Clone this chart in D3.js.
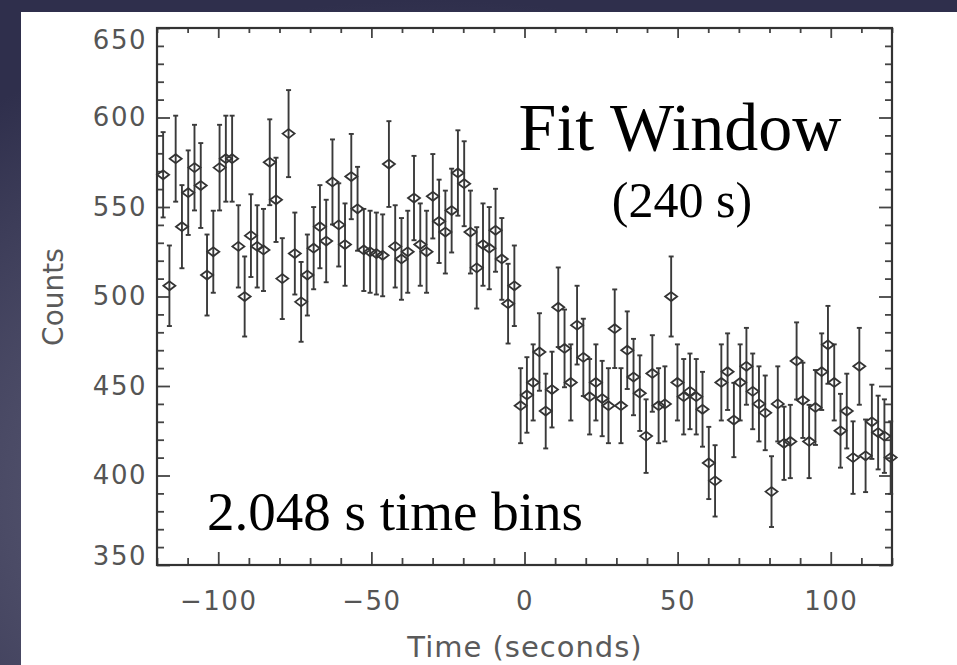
<!DOCTYPE html>
<html>
  <head>
    <meta charset="utf-8">
    <script src="https://d3js.org/d3.v7.min.js"></script>
    <style>
      body { margin: 0; }
      svg { display: block; }
    </style>
  </head>
  <body>
    <div id="chart"></div>
    <script>
      // 2.048 s bins, centres from -118 s
      const binStart = -118;
      const binWidth = 2.048;

      const counts = [
        568, 506, 577, 539, 558, 572, 562, 512, 525, 572,
        577, 577, 528, 500, 534, 528, 526, 575, 554, 510,
        591, 524, 497, 512, 527, 539, 531, 564, 540, 529,
        567, 549, 526, 525, 524, 523, 574, 528, 521, 525,
        555, 529, 525, 556, 542, 536, 548, 569, 563, 536,
        516, 529, 527, 537, 521, 496, 506, 439, 445, 452,
        469, 436, 448, 494, 471, 452, 484, 466, 444, 452,
        443, 439, 482, 439, 470, 455, 446, 422, 457, 439,
        440, 500, 452, 444, 447, 444, 437, 407, 397, 452,
        458, 431, 452, 461, 447, 440, 435, 391, 440, 418,
        419, 464, 442, 419, 438, 458, 473, 452, 425, 436,
        410, 461, 411, 430, 424, 422, 410
      ];

      const xMajor = [-100, -50, 0, 50, 100];
      const yMajor = [350, 400, 450, 500, 550, 600, 650];

      const data = counts.map((c, i) => ({
        t: binStart + i * binWidth,
        c: c,
        err: Math.sqrt(c) // poisson error
      }));

      const width = 957;
      const height = 665;
      const pLeft = 157, pRight = 892, pTop = 28, pBottom = 565;

      const svg = d3
        .select("#chart")
        .append("svg")
        .attr("width", width)
        .attr("height", height);

      // slide background
      const defs = svg.append("defs");
      const grad = defs
        .append("radialGradient")
        .attr("id", "bg")
        .attr("cx", "45%")
        .attr("cy", "75%")
        .attr("r", "75%");
      grad.append("stop").attr("offset", "0%").attr("stop-color", "#74748c");
      grad.append("stop").attr("offset", "100%").attr("stop-color", "#2f2f4c");
      svg.append("rect").attr("width", width).attr("height", height).attr("fill", "url(#bg)");

      svg
        .append("rect")
        .attr("x", 21)
        .attr("y", 12)
        .attr("width", width - 21)
        .attr("height", height - 12)
        .attr("fill", "#ffffff");

      const x = d3.scaleLinear().domain([-120, 120]).range([pLeft, pRight]);
      const y = d3.scaleLinear().domain([350, 650]).range([pBottom, pTop]);

      const xMinor = d3.range(-120, 121, 10).filter((v) => !xMajor.includes(v));
      const yMinor = d3.range(350, 651, 10).filter((v) => !yMajor.includes(v));

      function styleAxis(g) {
        g.select(".domain").remove();
        g.selectAll(".tick line").attr("stroke", "#444").attr("stroke-width", 1.8);
        g.selectAll(".tick text")
          .attr("fill", "#555")
          .style("font-family", "DejaVu Sans, sans-serif")
          .style("font-size", "26px")
          .style("letter-spacing", "1.5px");
      }

      // bottom
      svg.append("g")
        .attr("transform", `translate(0,${pBottom})`)
        .call(d3.axisBottom(x).tickValues(xMajor).tickSize(-13).tickPadding(27))
        .call(styleAxis);
      svg.append("g")
        .attr("transform", `translate(0,${pBottom})`)
        .call(d3.axisBottom(x).tickValues(xMinor).tickSize(-7).tickFormat(""))
        .call(styleAxis);
      // top
      svg.append("g")
        .attr("transform", `translate(0,${pTop})`)
        .call(d3.axisTop(x).tickValues(xMajor).tickSize(-10).tickFormat(""))
        .call(styleAxis);
      svg.append("g")
        .attr("transform", `translate(0,${pTop})`)
        .call(d3.axisTop(x).tickValues(xMinor).tickSize(-5).tickFormat(""))
        .call(styleAxis);
      // left
      const yAxisG = svg.append("g")
        .attr("transform", `translate(${pLeft},0)`)
        .call(d3.axisLeft(y).tickValues(yMajor).tickSize(-13).tickPadding(10))
        .call(styleAxis);
      svg.append("g")
        .attr("transform", `translate(${pLeft},0)`)
        .call(d3.axisLeft(y).tickValues(yMinor).tickSize(-7).tickFormat(""))
        .call(styleAxis);
      // right
      svg.append("g")
        .attr("transform", `translate(${pRight},0)`)
        .call(d3.axisRight(y).tickValues(yMajor).tickSize(-13).tickFormat(""))
        .call(styleAxis);
      svg.append("g")
        .attr("transform", `translate(${pRight},0)`)
        .call(d3.axisRight(y).tickValues(yMinor).tickSize(-7).tickFormat(""))
        .call(styleAxis);

      // end labels sit inside the range
      yAxisG.selectAll(".tick text")
        .filter((d) => d === 650)
        .attr("dy", "0.78em");
      yAxisG.selectAll(".tick text")
        .filter((d) => d === 350)
        .attr("dy", "-0.02em");

      // frame
      svg.append("rect")
        .attr("x", pLeft)
        .attr("y", pTop)
        .attr("width", pRight - pLeft)
        .attr("height", pBottom - pTop)
        .attr("fill", "none")
        .attr("stroke", "#333")
        .attr("stroke-width", 2.2);

      // error bars
      const pts = svg.append("g");
      pts.selectAll("line.bar")
        .data(data)
        .enter()
        .append("line")
        .attr("class", "bar")
        .attr("x1", (d) => x(d.t))
        .attr("x2", (d) => x(d.t))
        .attr("y1", (d) => y(d.c - d.err))
        .attr("y2", (d) => y(d.c + d.err))
        .attr("stroke", "#3a3a3a")
        .attr("stroke-width", 1.9);

      ["lo", "hi"].forEach((k) => {
        pts.selectAll("line.cap-" + k)
          .data(data)
          .enter()
          .append("line")
          .attr("class", "cap-" + k)
          .attr("x1", (d) => x(d.t) - 2.5)
          .attr("x2", (d) => x(d.t) + 2.5)
          .attr("y1", (d) => y(k === "lo" ? d.c - d.err : d.c + d.err))
          .attr("y2", (d) => y(k === "lo" ? d.c - d.err : d.c + d.err))
          .attr("stroke", "#3a3a3a")
          .attr("stroke-width", 1.9);
      });

      // diamonds
      pts.selectAll("path.dia")
        .data(data)
        .enter()
        .append("path")
        .attr("class", "dia")
        .attr("d", (d) => {
          const cx = x(d.t), cy = y(d.c);
          return `M${cx - 6},${cy}L${cx},${cy - 4.5}L${cx + 6},${cy}L${cx},${cy + 4.5}Z`;
        })
        .attr("fill", "none")
        .attr("stroke", "#333")
        .attr("stroke-width", 1.8);

      // axis titles
      svg.append("text")
        .attr("x", 525)
        .attr("y", 657)
        .attr("text-anchor", "middle")
        .attr("fill", "#5a5a5a")
        .style("font-family", "DejaVu Sans, sans-serif")
        .style("font-size", "29px")
        .style("letter-spacing", "1px")
        .text("Time (seconds)");

      svg.append("text")
        .attr("transform", "translate(63,297) rotate(-90)")
        .attr("text-anchor", "middle")
        .attr("fill", "#5a5a5a")
        .style("font-family", "DejaVu Sans, sans-serif")
        .style("font-size", "28px")
        .text("Counts");

      // annotations
      const serif = "Liberation Serif, Times New Roman, serif";
      svg.append("text")
        .attr("x", 680)
        .attr("y", 150)
        .attr("text-anchor", "middle")
        .attr("fill", "#000")
        .style("font-family", serif)
        .style("font-size", "68px")
        .text("Fit Window");
      svg.append("text")
        .attr("x", 682)
        .attr("y", 217)
        .attr("text-anchor", "middle")
        .attr("fill", "#000")
        .style("font-family", serif)
        .style("font-size", "50px")
        .text("(240 s)");
      svg.append("text")
        .attr("x", 207)
        .attr("y", 530)
        .attr("fill", "#000")
        .style("font-family", serif)
        .style("font-size", "55px")
        .text("2.048 s time bins");
    </script>
  </body>
</html>
